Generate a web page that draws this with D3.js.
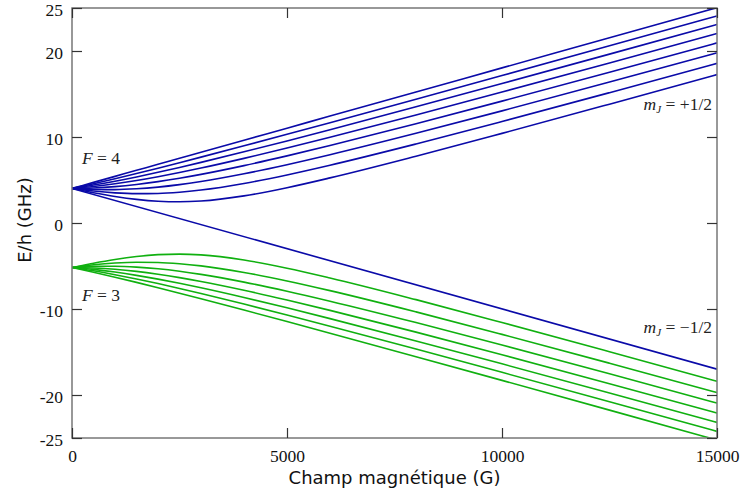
<!DOCTYPE html>
<html><head><meta charset="utf-8">
<script src="https://cdn.jsdelivr.net/npm/d3@7"></script>
<style>body{margin:0;background:#fff}</style>
</head><body>
<svg id="c" width="740" height="499"></svg>
<script>
// Magnetic field samples (G)
const field = [0,500,1000,1500,2000,2500,3000,4000,5000,6000,8000,10000,12500,15000];
// Upper branch (F=4 at B=0, mJ=+1/2), mF = -3..4, energies in GHz
const upperM3 = [4.0218,3.5225,3.0899,2.7499,2.5332,2.4662,2.5584,3.1538,4.1067,5.2439,7.7632,10.4206,13.8201,17.2598];
const upperM2 = [4.0218,3.7146,3.5058,3.4108,3.4378,3.5845,3.8388,4.6007,5.5912,6.7178,9.1868,11.7988,15.1564,18.5663];
const upperM1 = [4.0218,3.8984,3.8830,3.9767,4.1731,4.4602,4.8235,5.7235,6.7820,7.9402,10.4276,13.0381,16.3878,19.7892];
const upper0  = [4.0218,4.0749,4.2307,4.4797,4.8089,5.2048,5.6545,6.6744,7.8053,9.0080,11.5421,14.1737,17.5356,20.9427];
const upperP1 = [4.0218,4.2450,4.5548,4.9369,5.3772,5.8638,6.3870,7.5143,8.7166,9.9681,12.5623,15.2279,18.6149,22.0374];
const upperP2 = [4.0218,4.4092,4.8597,5.3590,5.8957,6.4613,7.0494,8.2749,9.5461,10.8479,13.5088,16.2160,19.6366,23.0815];
const upperP3 = [4.0218,4.5682,5.1484,5.7530,6.3756,7.0120,7.6587,8.9750,10.3126,11.6645,14.3956,17.1491,20.6092,24.0814];
const upperP4 = [4.0218,4.7225,5.4232,6.1239,6.8245,7.5252,8.2259,9.6273,11.0286,12.4300,15.2328,18.0355,21.5390,25.0424];
// F=4, mF=-4 (straight line, mJ=-1/2)
const stretchField = [0,15000];
const stretchM4 = [4.0218,-16.9975];
// Lower branch (F=3 at B=0, mJ=-1/2), mF = -3..3
const lowerM3 = [-5.1709,-4.6716,-4.2390,-3.8990,-3.6823,-3.6152,-3.7075,-4.3029,-5.2557,-6.3930,-8.9123,-11.5697,-14.9692,-18.4089];
const lowerM2 = [-5.1709,-4.8637,-4.6548,-4.5599,-4.5869,-4.7336,-4.9879,-5.7498,-6.7403,-7.8668,-10.3358,-12.9479,-16.3055,-19.7154];
const lowerM1 = [-5.1709,-5.0474,-5.0321,-5.1258,-5.3222,-5.6093,-5.9726,-6.8726,-7.9311,-9.0893,-11.5767,-14.1872,-17.5369,-20.9383];
const lower0  = [-5.1709,-5.2240,-5.3797,-5.6287,-5.9580,-6.3538,-6.8036,-7.8235,-8.9544,-10.1571,-12.6912,-15.3228,-18.6847,-22.0918];
const lowerP1 = [-5.1709,-5.3940,-5.7039,-6.0860,-6.5262,-7.0129,-7.5361,-8.6634,-9.8657,-11.1172,-13.7114,-16.3770,-19.7640,-23.1865];
const lowerP2 = [-5.1709,-5.5583,-6.0088,-6.5081,-7.0448,-7.6104,-8.1985,-9.4240,-10.6952,-11.9970,-14.6579,-17.3651,-20.7857,-24.2306];
const lowerP3 = [-5.1709,-5.7173,-6.2975,-6.9021,-7.5247,-8.1610,-8.8078,-10.1241,-11.4617,-12.8136,-15.5447,-18.2982,-21.7582,-25.2305];
// Tick labels
const xTicks = [0,5000,10000,15000];
const yTicks = [-25,-20,-10,0,10,20,25];

const svg = d3.select('#c');
const L=72, R=717, T=8, B=438;
const x = d3.scaleLinear().domain([0,15000]).range([L,R]);
const y = d3.scaleLinear().domain([-25,25]).range([B,T]);

svg.append('defs').append('clipPath').attr('id','clip')
  .append('rect').attr('x',L).attr('y',T).attr('width',R-L).attr('height',B-T);

const line = d3.line().x(d=>x(d[0])).y(d=>y(d[1])).curve(d3.curveMonotoneX);
const g = svg.append('g').attr('clip-path','url(#clip)');
const blue = '#0a0aa8', green = '#10b010';
[upperM3,upperM2,upperM1,upper0,upperP1,upperP2,upperP3,upperP4].forEach(s=>{
  g.append('path').attr('d',line(field.map((f,i)=>[f,s[i]]))).attr('fill','none').attr('stroke',blue).attr('stroke-width',1.6);
});
g.append('path').attr('d',line(stretchField.map((f,i)=>[f,stretchM4[i]]))).attr('fill','none').attr('stroke',blue).attr('stroke-width',1.6);
[lowerM3,lowerM2,lowerM1,lower0,lowerP1,lowerP2,lowerP3].forEach(s=>{
  g.append('path').attr('d',line(field.map((f,i)=>[f,s[i]]))).attr('fill','none').attr('stroke',green).attr('stroke-width',1.6);
});

// Frame
const frameCol = '#777';
svg.append('rect').attr('x',L).attr('y',T).attr('width',R-L).attr('height',B-T)
  .attr('fill','none').attr('stroke',frameCol).attr('stroke-width',1.5);

const tickFont = '"Liberation Serif", "DejaVu Serif", serif';
// Axes
const axL = d3.axisLeft(y).tickValues(yTicks).tickSize(-10).tickPadding(9).tickFormat(d=>String(d));
const axR = d3.axisRight(y).tickValues(yTicks).tickSize(-10).tickFormat('');
const axB = d3.axisBottom(x).tickValues(xTicks).tickSize(-10).tickPadding(12).tickFormat(d=>String(d));
const axT = d3.axisTop(x).tickValues(xTicks).tickSize(-10).tickFormat('');
function style(sel){
  sel.select('.domain').remove();
  sel.selectAll('line').attr('stroke','#333').attr('stroke-width',1.2);
  sel.selectAll('text').attr('font-family',tickFont).attr('font-size',17.5).attr('fill','#111');
}
svg.append('g').attr('transform',`translate(${L},0)`).call(axL).call(style)
  .selectAll('text').attr('dy','0.4em');
svg.append('g').attr('transform',`translate(${R},0)`).call(axR).call(style);
svg.append('g').attr('transform',`translate(0,${B})`).call(axB).call(style);
svg.append('g').attr('transform',`translate(0,${T})`).call(axT).call(style);

// Axis titles
svg.append('text').attr('x',(L+R)/2).attr('y',484).attr('text-anchor','middle')
  .attr('font-family','"DejaVu Sans", sans-serif').attr('font-size',18).attr('fill','#111')
  .text('Champ magnétique (G)');
svg.append('text').attr('transform',`translate(31,${(T+B)/2 - 3}) rotate(-90)`).attr('text-anchor','middle')
  .attr('font-family','"DejaVu Sans", sans-serif').attr('font-size',18).attr('fill','#111')
  .text('E/h (GHz)');

// Annotations
const ann = (tx,ty,anchor,parts)=>{
  const t = svg.append('text').attr('x',tx).attr('y',ty).attr('text-anchor',anchor)
    .attr('font-family',tickFont).attr('font-size',17.5).attr('fill','#222');
  parts.forEach(p=>{
    const ts = t.append('tspan').text(p.t);
    if(p.i) ts.attr('font-style','italic');
    if(p.sub) ts.attr('font-size',11).attr('dy',3);
    if(p.up) ts.attr('dy',-3);
  });
};
ann(82,164,'start',[{t:'F',i:1},{t:' = 4'}]);
ann(82,301,'start',[{t:'F',i:1},{t:' = 3'}]);
ann(712,110,'end',[{t:'m',i:1},{t:'J',i:1,sub:1},{t:' = +1/2',up:1}]);
ann(712,333,'end',[{t:'m',i:1},{t:'J',i:1,sub:1},{t:' = −1/2',up:1}]);
</script>
</body></html>
